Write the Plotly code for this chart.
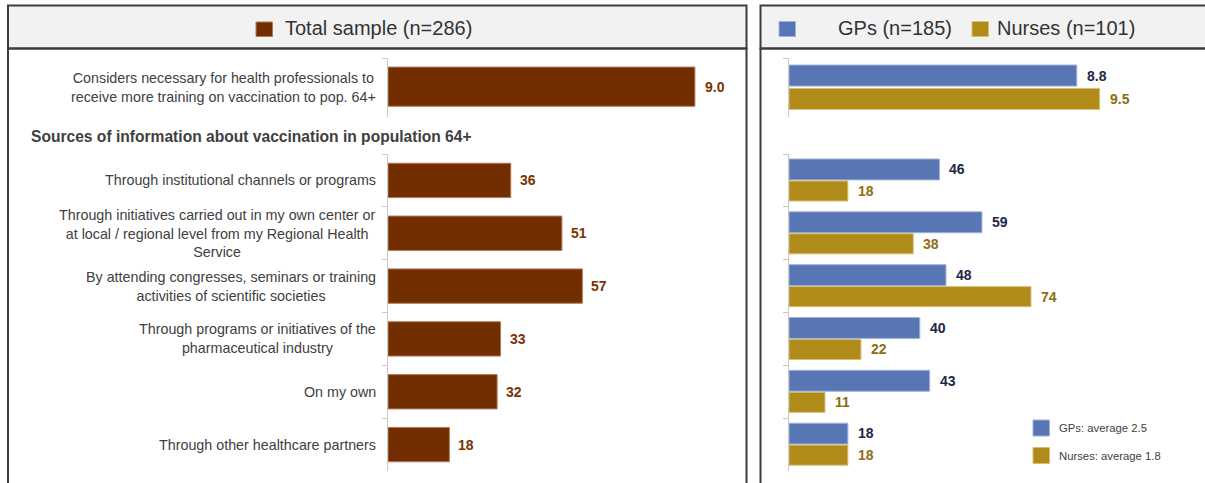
import plotly.graph_objects as go

W, H = 1205, 483

# ---------------- data ----------------
score_label = ["Considers necessary for health professionals to<br>receive more training on vaccination to pop. 64+"]
score_total = [9.0]
score_gps = [8.8]
score_nurses = [9.5]

sources = [
    "Through institutional channels or programs",
    "Through initiatives carried out in my own center or<br>at local / regional level from my Regional Health<br>Service",
    "By attending congresses, seminars or training<br>activities of scientific societies",
    "Through programs or initiatives of the<br>pharmaceutical industry",
    "On my own",
    "Through other healthcare partners",
]
total_pct = [36, 51, 57, 33, 32, 18]
gps_pct = [46, 59, 48, 40, 43, 18]
nurses_pct = [18, 38, 74, 22, 11, 18]

header_total = "Total sample (n=286)"
header_gps = "GPs (n=185)"
header_nurses = "Nurses (n=101)"
section_title = "Sources of information about vaccination in population 64+"
legend_gps = "GPs: average 2.5"
legend_nurses = "Nurses: average 1.8"

# ---------------- styles ----------------
BROWN = "#722E00"
BROWN_TXT = "#7A3300"
BLUE = "#5976B4"
GOLD = "#B08B19"
NAVY_TXT = "#1E2745"
GOLD_TXT = "#8E6E10"
LABEL_C = "#404040"
AXIS_C = "#C8C8C8"
FONT = "Arial, Liberation Sans, sans-serif"
LABEL_SIZE = 14.3


def px(x):
    return x / W


def py(y):
    return 1 - y / H


fig = go.Figure()

# axes geometry (pixels)
L0, L1 = 388, 388 + 341
R0, R1 = 789, 789 + 327
TOP = (58, 116.5)
BOT = (154, 471)

# Left top: score
fig.add_trace(go.Bar(x=score_total, y=score_label, orientation="h", xaxis="x", yaxis="y",
                     marker=dict(color=BROWN, line=dict(color="#B07A5A", width=1)),
                     width=0.67, offset=-0.345, showlegend=False, hoverinfo="skip"))
# Left bottom: sources
fig.add_trace(go.Bar(x=total_pct, y=sources, orientation="h", xaxis="x2", yaxis="y2",
                     marker=dict(color=BROWN, line=dict(color="#B07A5A", width=1)),
                     width=0.65, offset=-0.325, showlegend=False, hoverinfo="skip"))
# Right top: score by group
fig.add_trace(go.Bar(x=score_gps, y=score_label, orientation="h", xaxis="x3", yaxis="y3",
                     marker=dict(color=BLUE, line=dict(color="#9FB1D8", width=1)),
                     width=0.36, offset=-0.38, showlegend=False, hoverinfo="skip"))
fig.add_trace(go.Bar(x=score_nurses, y=score_label, orientation="h", xaxis="x3", yaxis="y3",
                     marker=dict(color=GOLD, line=dict(color="#D6BE76", width=1)),
                     width=0.36, offset=0.02, showlegend=False, hoverinfo="skip"))
# Right bottom: sources by group
fig.add_trace(go.Bar(x=gps_pct, y=sources, orientation="h", xaxis="x4", yaxis="y4",
                     marker=dict(color=BLUE, line=dict(color="#9FB1D8", width=1)),
                     width=0.395, offset=-0.405, showlegend=False, hoverinfo="skip"))
fig.add_trace(go.Bar(x=nurses_pct, y=sources, orientation="h", xaxis="x4", yaxis="y4",
                     marker=dict(color=GOLD, line=dict(color="#D6BE76", width=1)),
                     width=0.38, offset=0.01, showlegend=False, hoverinfo="skip"))


def yax(dom, anchor):
    return dict(domain=[py(dom[1]), py(dom[0])], anchor=anchor, type="category",
                autorange="reversed", showline=True, linecolor=AXIS_C, linewidth=1,
                ticks="outside", tickson="boundaries", ticklen=5, tickcolor=AXIS_C,
                showticklabels=False, showgrid=False, zeroline=False, fixedrange=True)


def xax(dom, rng, anchor):
    return dict(domain=[px(dom[0]), px(dom[1])], range=rng, anchor=anchor, visible=False,
                fixedrange=True)


annotations = []

# category labels (centered multi-line blocks, right aligned to axis)
annotations.append(dict(x=0, y=0, xref="x", yref="y", text=score_label[0], showarrow=False,
                        xanchor="right", yanchor="middle", align="center", xshift=-10,
                        font=dict(family=FONT, size=LABEL_SIZE, color=LABEL_C)))
for i, s in enumerate(sources):
    annotations.append(dict(x=0, y=i, xref="x2", yref="y2", text=s, showarrow=False,
                            xanchor="right", yanchor="middle", align="center", xshift=-10,
                            font=dict(family=FONT, size=LABEL_SIZE, color=LABEL_C)))

# value labels
vfont = lambda c: dict(family=FONT, size=14, color=c)
annotations.append(dict(x=score_total[0], y=0, xref="x", yref="y", text=f"<b>{score_total[0]:.1f}</b>",
                        showarrow=False, xanchor="left", yanchor="middle", xshift=8, font=vfont(BROWN_TXT)))
for i, v in enumerate(total_pct):
    annotations.append(dict(x=v, y=i, xref="x2", yref="y2", text=f"<b>{v}</b>", showarrow=False,
                            xanchor="left", yanchor="middle", xshift=7, font=vfont(BROWN_TXT)))
annotations.append(dict(x=score_gps[0], y=-0.2, xref="x3", yref="y3", text=f"<b>{score_gps[0]:.1f}</b>",
                        showarrow=False, xanchor="left", yanchor="middle", xshift=8, font=vfont(NAVY_TXT)))
annotations.append(dict(x=score_nurses[0], y=0.2, xref="x3", yref="y3", text=f"<b>{score_nurses[0]:.1f}</b>",
                        showarrow=False, xanchor="left", yanchor="middle", xshift=8, font=vfont(GOLD_TXT)))
for i, v in enumerate(gps_pct):
    annotations.append(dict(x=v, y=i - 0.21, xref="x4", yref="y4", text=f"<b>{v}</b>", showarrow=False,
                            xanchor="left", yanchor="middle", xshift=8, font=vfont(NAVY_TXT)))
for i, v in enumerate(nurses_pct):
    annotations.append(dict(x=v, y=i + 0.2, xref="x4", yref="y4", text=f"<b>{v}</b>", showarrow=False,
                            xanchor="left", yanchor="middle", xshift=8, font=vfont(GOLD_TXT)))

# section title
annotations.append(dict(x=px(29), y=py(136), xref="paper", yref="paper", text=f"<b>{section_title}</b>",
                        showarrow=False, xanchor="left", yanchor="middle",
                        font=dict(family=FONT, size=15.6, color=LABEL_C)))

# headers
HFONT = dict(family=FONT, size=20, color="#333333")
annotations.append(dict(x=px(283), y=py(28.5), xref="paper", yref="paper", text=header_total,
                        showarrow=False, xanchor="left", yanchor="middle", font=HFONT))
annotations.append(dict(x=px(836), y=py(28.5), xref="paper", yref="paper", text=header_gps,
                        showarrow=False, xanchor="left", yanchor="middle", font=HFONT))
annotations.append(dict(x=px(995), y=py(28.5), xref="paper", yref="paper", text=header_nurses,
                        showarrow=False, xanchor="left", yanchor="middle", font=HFONT))
# bottom-right legend text
annotations.append(dict(x=px(1057), y=py(428), xref="paper", yref="paper", text=legend_gps,
                        showarrow=False, xanchor="left", yanchor="middle",
                        font=dict(family=FONT, size=11.3, color=LABEL_C)))
annotations.append(dict(x=px(1057), y=py(455.5), xref="paper", yref="paper", text=legend_nurses,
                        showarrow=False, xanchor="left", yanchor="middle",
                        font=dict(family=FONT, size=11.3, color=LABEL_C)))

shapes = []
PANEL_LINE = dict(color="#3C3C3C", width=2)
# panels
for x0, x1 in [(8, 746.5), (760.5, 1215)]:
    shapes.append(dict(type="rect", xref="paper", yref="paper", x0=px(x0), x1=px(x1),
                       y0=py(48.5), y1=py(5.5), fillcolor="#F2F2F2", line=PANEL_LINE, layer="below"))
    shapes.append(dict(type="rect", xref="paper", yref="paper", x0=px(x0), x1=px(x1),
                       y0=py(500), y1=py(48.5), fillcolor="rgba(0,0,0,0)", line=PANEL_LINE, layer="below"))


def swatch(x0, y0, x1, y1, color, edge):
    shapes.append(dict(type="rect", xref="paper", yref="paper", x0=px(x0), x1=px(x1),
                       y0=py(y1), y1=py(y0), fillcolor=color, line=dict(color=edge, width=1)))


swatch(256, 22, 272.5, 36.5, BROWN, "#B07A5A")
swatch(779, 21.5, 795.5, 36.5, BLUE, "#9FB1D8")
swatch(972, 21.5, 988.5, 36.5, GOLD, "#D6BE76")
swatch(1033, 420, 1049.5, 436, BLUE, "#9FB1D8")
swatch(1033, 447.5, 1049.5, 463.5, GOLD, "#D6BE76")

fig.update_layout(
    width=W, height=H, margin=dict(l=0, r=0, t=0, b=0),
    paper_bgcolor="white", plot_bgcolor="rgba(0,0,0,0)",
    barmode="overlay",
    xaxis=xax((L0, L1), [0, 10], "y"),
    yaxis=yax(TOP, "x"),
    xaxis2=xax((L0, L1), [0, 100], "y2"),
    yaxis2=yax(BOT, "x2"),
    xaxis3=xax((R0, R1), [0, 10], "y3"),
    yaxis3=yax(TOP, "x3"),
    xaxis4=xax((R0, R1), [0, 100], "y4"),
    yaxis4=yax(BOT, "x4"),
    annotations=annotations, shapes=shapes,
    font=dict(family=FONT),
)

fig.write_html("out.html", config={"displayModeBar": False},
               post_script="document.body.style.margin='0';document.body.style.overflow='hidden';")
